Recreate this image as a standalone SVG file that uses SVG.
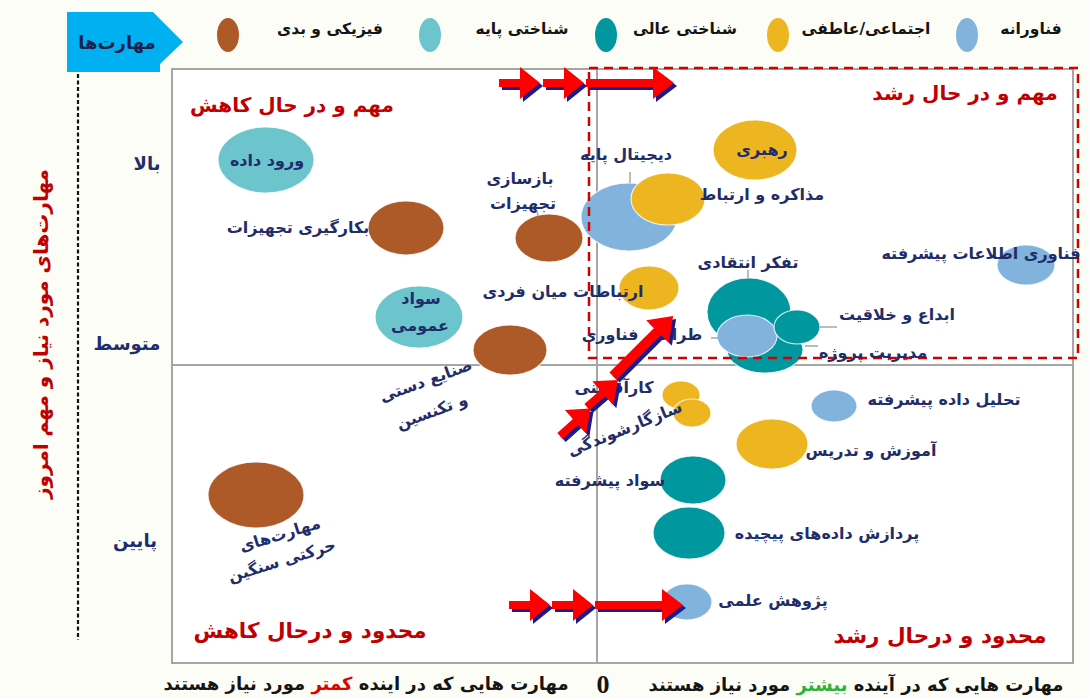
<svg xmlns="http://www.w3.org/2000/svg" xmlns:xlink="http://www.w3.org/1999/xlink" width="1089" height="698" viewBox="0 0 1089 698">
<defs>
<style>
text{font-family:'DejaVu Sans','Noto Sans',sans-serif;font-weight:bold;direction:rtl;text-anchor:middle}
.lbl{font-size:16px;fill:#1F2D6B}
.hd{font-size:20px;fill:#C00000}
.hd2{font-size:21.5px;fill:#C00000}
.ax{font-size:18px;fill:#1F2D6B}
.lg{font-size:15.5px;fill:#141414}
.bt{font-size:18px;fill:#141414}
.brown{fill:#AE5A28}
.lteal{fill:#6CC5CD}
.dteal{fill:#00979E}
.yel{fill:#EDB520}
.lblue{fill:#82B3DC}
.bub{stroke:#ffffff;stroke-width:1.2;stroke-opacity:0.8}
.lead{stroke:#A6A6A6;stroke-width:1.5;fill:none}
.red{fill:#FF0000}
.shd{fill:#1B1B8A}
.grid{stroke:#A6A6A6;stroke-width:2;fill:none}
</style>
<path id="as" d="M0,-4 H21 V-16 L41,0 L21,16 V4 H0 Z"/>
<path id="al" d="M0,-4 H67 V-16 L88,0 L67,16 V4 H0 Z"/>
<path id="ad" d="M0,-5 H63 V-16 L85,0 L63,16 V5 H0 Z"/>
</defs>

<rect x="0" y="0" width="1089" height="698" fill="#FDFDF7"/>
<rect x="172" y="69" width="901" height="594" fill="#FFFFFF"/>

<!-- legend -->
<g id="legend">
  <polygon points="67,12 153,12 183,42 160,64 160,72 67,72" fill="#00B0F0"/>
  <text class="ax" x="117" y="49" style="fill:#1A1F4D">مهارت‌ها</text>
  <ellipse class="brown" cx="228" cy="35" rx="11" ry="17"/>
  <text class="lg" x="330" y="34">فیزیکی و بدی</text>
  <ellipse class="lteal" cx="430" cy="35" rx="11" ry="17"/>
  <text class="lg" x="522" y="34">شناختی پایه</text>
  <ellipse class="dteal" cx="606" cy="35" rx="11" ry="17"/>
  <text class="lg" x="685" y="34">شناختی عالی</text>
  <ellipse class="yel" cx="778" cy="35" rx="11" ry="17"/>
  <text class="lg" x="866" y="34">اجتماعی/عاطفی</text>
  <ellipse class="lblue" cx="967" cy="35" rx="11" ry="17"/>
  <text class="lg" x="1031" y="34">فناورانه</text>
</g>

<!-- axes -->
<g id="axes">
  <line x1="78" y1="74" x2="78" y2="640" stroke="#111" stroke-width="2.2" stroke-dasharray="4,2.5"/>
  <text class="hd" transform="translate(48,334) rotate(-90)">مهارت‌های مورد نیاز و مهم امروز</text>
  <text class="ax" x="147" y="170">بالا</text>
  <text class="ax" x="127" y="350">متوسط</text>
  <text class="ax" x="135" y="547">پایین</text>
  <rect class="grid" x="172" y="69" width="901" height="594"/>
  <line class="grid" x1="597" y1="69" x2="597" y2="663"/>
  <line class="grid" x1="172" y1="365" x2="1073" y2="365"/>
  <text class="bt" x="366" y="690">مهارت هایی که در اینده <tspan style="fill:#E00000">کمتر</tspan> مورد نیاز هستند</text>
  <text class="bt" x="856" y="691">مهارت هایی که در آینده <tspan style="fill:#2DB33A">بیشتر</tspan> مورد نیاز هستند</text>
  <text x="603" y="693" style="font-family:'Liberation Serif',serif;font-size:26px;fill:#141414;direction:ltr">0</text>
</g>

<!-- quadrant headings -->
<g id="headings">
  <text class="hd" x="292" y="112">مهم و در حال کاهش</text>
  <text class="hd" x="965" y="100">مهم و در حال رشد</text>
  <text class="hd2" x="310" y="638">محدود و درحال کاهش</text>
  <text class="hd2" x="940" y="643">محدود و درحال رشد</text>
</g>

<!-- bubbles -->
<g id="n-vorud-dade"><ellipse class="lteal bub" cx="266" cy="160" rx="48" ry="33"/></g>
<g id="n-bekargiri"><ellipse class="brown bub" cx="406" cy="228" rx="38" ry="27"/></g>
<g id="n-bazsazi"><ellipse class="brown bub" cx="549" cy="238" rx="34" ry="24"/></g>
<g id="n-savad-omumi"><ellipse class="lteal bub" cx="419" cy="317" rx="44" ry="31"/></g>
<g id="n-sanaye"><ellipse class="brown bub" cx="510" cy="350" rx="37" ry="25"/></g>
<g id="n-harekati"><ellipse class="brown bub" cx="256" cy="495" rx="48" ry="33"/></g>
<g id="n-digital"><ellipse class="lblue bub" cx="629" cy="217" rx="48" ry="34"/></g>
<g id="n-mozakere"><ellipse class="yel bub" cx="668" cy="199" rx="37" ry="26"/></g>
<g id="n-rahbari"><ellipse class="yel bub" cx="755" cy="150" rx="42" ry="30"/></g>
<g id="n-ertebatat"><ellipse class="yel bub" cx="649" cy="288" rx="30" ry="22"/></g>
<g id="n-tafakkor"><ellipse class="dteal bub" cx="749" cy="312" rx="42" ry="34"/></g>
<g id="n-modiriat"><ellipse class="dteal bub" cx="765" cy="350" rx="38" ry="23"/></g>
<g id="n-tarahi"><ellipse class="lblue bub" cx="747" cy="336" rx="30" ry="21"/></g>
<g id="n-ebda"><ellipse class="dteal bub" cx="797" cy="327" rx="23" ry="17"/></g>
<g id="n-fanavari-ettelaat"><ellipse class="lblue bub" cx="1026" cy="265" rx="29" ry="20"/></g>
<g id="n-karafarini"><ellipse class="yel bub" cx="681" cy="395" rx="19" ry="14"/></g>
<g id="n-sazgari"><ellipse class="yel bub" cx="692" cy="413" rx="19" ry="14"/></g>
<g id="n-tahlil"><ellipse class="lblue bub" cx="834" cy="406" rx="23" ry="16"/></g>
<g id="n-amuzesh"><ellipse class="yel bub" cx="772" cy="444" rx="36" ry="25"/></g>
<g id="n-savad-pishrafte"><ellipse class="dteal bub" cx="693" cy="480" rx="33" ry="24"/></g>
<g id="n-pardazesh"><ellipse class="dteal bub" cx="689" cy="533" rx="36" ry="26"/></g>
<g id="n-pazhuhesh"><ellipse class="lblue bub" cx="687" cy="602" rx="25" ry="18"/></g>

<!-- growth zone -->
<rect x="589" y="68" width="489" height="290" fill="none" stroke="#D00000" stroke-width="2.5" stroke-dasharray="9,6"/>

<!-- labels -->
<g id="labels">
  <text class="lbl" x="267" y="166">ورود داده</text>
  <text class="lbl" x="298" y="233">بکارگیری تجهیزات</text>
  <text class="lbl" x="520" y="184">بازسازی</text>
  <text class="lbl" x="523" y="209">تجهیزات</text>
  <text class="lbl" x="421" y="304">سواد</text>
  <text class="lbl" x="420" y="331">عمومی</text>
  <text class="lbl" transform="translate(426,381) rotate(-20)" y="5">صنایع دستی</text>
  <text class="lbl" transform="translate(432,412) rotate(-20)" y="5">و تکنسین</text>
  <text class="lbl" transform="translate(280,535) rotate(-17)" y="5">مهارت‌های</text>
  <text class="lbl" transform="translate(282,561) rotate(-17)" y="5">حرکتی سنگین</text>
  <text class="lbl" x="626" y="160">دیجیتال پایه</text>
  <text class="lbl" x="762" y="155">رهبری</text>
  <text class="lbl" x="762" y="200">مذاکره و ارتباط</text>
  <text class="lbl" x="563" y="297">ارتباطات میان فردی</text>
  <text class="lbl" x="748" y="268">تفکر انتقادی</text>
  <text class="lbl" x="981" y="259">فناوری اطلاعات پیشرفته</text>
  <text class="lbl" x="897" y="320">ابداع و خلاقیت</text>
  <text class="lbl" x="642" y="340">طراحی فناوری</text>
  <text class="lbl" x="873" y="358">مدیریت پروژه</text>
  <text class="lbl" x="614" y="393">کارآفرینی</text>
  <text class="lbl" transform="translate(625,429) rotate(-22)" y="5">سازگارشوندگی</text>
  <text class="lbl" x="944" y="405">تحلیل داده پیشرفته</text>
  <text class="lbl" x="871" y="456">آموزش و تدریس</text>
  <text class="lbl" x="610" y="486">سواد پیشرفته</text>
  <text class="lbl" x="827" y="539">پردازش داده‌های پیچیده</text>
  <text class="lbl" x="773" y="606">پژوهش علمی</text>
</g>

<!-- connectors -->
<g id="connectors">
  <line class="lead" x1="630" y1="172" x2="630" y2="183"/>
  <line class="lead" x1="537" y1="211" x2="538" y2="216"/>
  <line class="lead" x1="748" y1="270" x2="748" y2="279"/>
  <line class="lead" x1="820" y1="327" x2="837" y2="327"/>
  <line class="lead" x1="805" y1="346" x2="818" y2="346"/>
  <line class="lead" x1="711" y1="338" x2="718" y2="338"/>

  <g transform="translate(499,83)"><use xlink:href="#as" class="shd" transform="translate(3,3)"/><use xlink:href="#as" class="red"/></g>
  <g transform="translate(543,83)"><use xlink:href="#as" class="shd" transform="translate(3,3)"/><use xlink:href="#as" class="red"/></g>
  <g transform="translate(586,83)"><use xlink:href="#al" class="shd" transform="translate(3,3)"/><use xlink:href="#al" class="red"/></g>

  <g transform="translate(509,605)"><use xlink:href="#as" class="shd" transform="translate(3,3)"/><use xlink:href="#as" class="red"/></g>
  <g transform="translate(552,605)"><use xlink:href="#as" class="shd" transform="translate(3,3)"/><use xlink:href="#as" class="red"/></g>
  <g transform="translate(595,605)"><use xlink:href="#al" class="shd" transform="translate(3,3)"/><use xlink:href="#al" class="red"/></g>

  <g transform="translate(560,436)"><use xlink:href="#as" class="shd" transform="translate(3,3) rotate(-42)"/><use xlink:href="#as" class="red" transform="rotate(-42)"/></g>
  <g transform="translate(587,407)"><use xlink:href="#as" class="shd" transform="translate(3,3) rotate(-41)"/><use xlink:href="#as" class="red" transform="rotate(-41)"/></g>
  <g transform="translate(613,376)"><use xlink:href="#ad" class="shd" transform="translate(3,3) rotate(-45)"/><use xlink:href="#ad" class="red" transform="rotate(-45)"/></g>
</g>
</svg>
